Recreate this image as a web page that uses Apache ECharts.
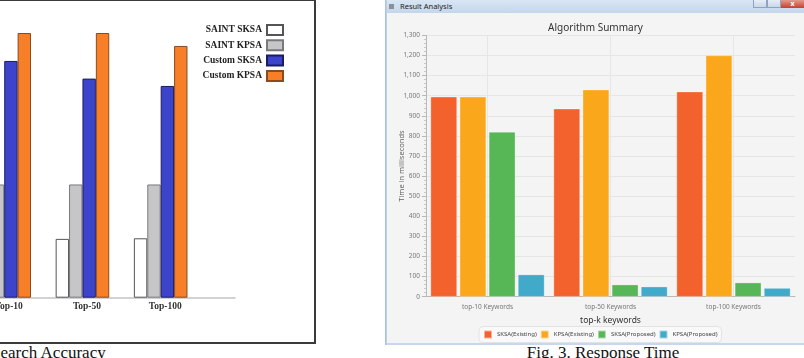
<!DOCTYPE html>
<html>
<head>
<meta charset="utf-8">
<script src="https://cdn.jsdelivr.net/npm/echarts@6/dist/echarts.min.js"></script>
<style>
html,body{margin:0;padding:0;background:#fff;width:804px;height:358px;overflow:hidden;position:relative;}
#leftBox{position:absolute;left:-130px;top:-1px;width:442px;height:341px;border:2px solid #3a3a3a;}
#leftChart{position:absolute;left:-120px;top:0;width:435px;height:343px;}
.caption{position:absolute;font-family:"Liberation Serif",serif;font-size:17px;line-height:17px;color:#111;white-space:nowrap;}
#win{position:absolute;left:385px;top:0;width:419px;height:345px;background:linear-gradient(90deg,#9db9dd,#c6d8ee 2px);}
#titlebar{position:absolute;left:387px;top:0;width:417px;height:13px;background:linear-gradient(#d9e6f4,#c4d6eb);}
#titleText{position:absolute;left:400px;top:2px;font-family:"Noto Sans",sans-serif;font-size:7.5px;line-height:9px;color:#222;}
#titleIcon{position:absolute;left:389px;top:4px;width:5px;height:5px;background:#8a8f98;}
.btn{position:absolute;top:0;height:8px;border:1px solid #8ea3bf;border-top:none;box-sizing:border-box;background:linear-gradient(#e6eef7,#c9d7e8);}
#btnClose{position:absolute;left:781px;top:0;width:23px;height:8px;background:linear-gradient(#e49a8d,#c6402d);color:#fff;font:bold 7px "Noto Sans",sans-serif;line-height:8px;text-align:center;}
#content{position:absolute;left:387px;top:13px;width:417px;height:330px;background:#f4f4f4;}
#rightChart{position:absolute;left:387px;top:13px;width:417px;height:330px;}
</style>
</head>
<body>
<div id="leftBox"></div>
<div id="leftChart"></div>
<div class="caption" style="left:-9px;top:344px;">Search Accuracy</div>

<div id="win"></div>
<div id="titlebar"></div>
<div id="titleIcon"></div>
<div id="titleText">Result Analysis</div>
<div class="btn" style="left:753px;width:14px;"></div>
<div class="btn" style="left:767px;width:14px;"></div>
<div id="btnClose">x</div>
<div id="content"></div>
<div id="rightChart"></div>
<div class="caption" style="left:503px;width:200px;text-align:center;top:344px;">Fig. 3. Response Time</div>

<script>
// search accuracy (left, no axis values shown)
const accCategories = ['Top-10', 'Top-50', 'Top-100'];
const saintSksa = [20, 20, 20.2];
const saintKpsa = [38.5, 38.5, 38.5];
const customSksa = [80.5, 74.5, 72];
const customKpsa = [90, 90, 85.6];

// response time (right)
const rtCategories = ['top-10 Keywords', 'top-50 Keywords', 'top-100 Keywords'];
const sksaExisting = [995, 935, 1020];
const kpsaExisting = [995, 1030, 1200];
const sksaProposed = [820, 60, 70];
const kpsaProposed = [110, 50, 43];

function drawLeft() {
    let chart = echarts.init(document.getElementById('leftChart'));
    const serif = '"Liberation Serif", serif';
    // bars on a value axis so the axis line can run past the last group
    const toPoints = arr => arr.map((v, i) => [i, v]);
    const barSeries = (name, arr, fill, border) => ({
        name: name,
        type: 'bar',
        data: toPoints(arr),
        barWidth: 13.4,
        barGap: '0%',
        itemStyle: { color: fill, borderColor: border, borderWidth: 1 }
    });
    chart.setOption({
        animation: false,
        grid: { left: 46, right: 80, top: 3.6, bottom: 45.3, outerBoundsMode: 'none' },
        legend: {
            orient: 'vertical',
            right: 26,
            top: 19,
            align: 'right',
            itemWidth: 16,
            itemHeight: 10,
            itemGap: 3.3,
            icon: 'rect',
            textStyle: { fontFamily: serif, fontWeight: 'bold', fontSize: 9.5, color: '#222' }
        },
        xAxis: {
            type: 'value',
            min: -1,
            max: 2.95,
            interval: 1,
            splitLine: { show: false },
            axisTick: { show: false },
            axisLine: { show: true, lineStyle: { color: '#c4c4c4', width: 1.5 } },
            axisLabel: {
                margin: 4,
                padding: [0, 0, 0, 9],
                fontFamily: serif,
                fontWeight: 'bold',
                fontSize: 9.5,
                color: '#333',
                formatter: v => accCategories[v] || ''
            }
        },
        yAxis: { type: 'value', min: 0, max: 100, show: false },
        series: [
            barSeries('SAINT SKSA', saintSksa, '#ffffff', '#555555'),
            barSeries('SAINT KPSA', saintKpsa, '#c6c6c8', '#7a7a7a'),
            barSeries('Custom SKSA', customSksa, '#3d44cc', '#1c1c60'),
            barSeries('Custom KPSA', customKpsa, '#f67f27', '#8a4a22')
        ]
    });
}

function drawRight() {
    let chart = echarts.init(document.getElementById('rightChart'));
    const sans = '"Noto Sans", sans-serif';
    const barSeries = (name, arr, color) => ({
        name: name,
        type: 'bar',
        data: arr,
        barWidth: 26.5,
        barGap: '10%',
        itemStyle: { color: color, borderColor: 'rgba(255,255,255,0.5)', borderWidth: 0.6 }
    });
    chart.setOption({
        animation: false,
        title: {
            text: 'Algorithm Summary',
            left: 'center',
            top: 5,
            textStyle: { fontFamily: sans, fontSize: 10, fontWeight: 'normal', color: '#333' }
        },
        grid: { left: 39, right: 9, top: 22.4, bottom: 46.3, outerBoundsMode: 'none' },
        legend: {
            left: 92,
            top: 313.5,
            itemWidth: 8,
            itemHeight: 8,
            itemGap: 3,
            icon: 'rect',
            padding: [3, 4],
            backgroundColor: '#f9f9f9',
            borderColor: '#e3e3e3',
            borderWidth: 1,
            borderRadius: 4,
            textStyle: { fontFamily: sans, fontSize: 6, color: '#444' }
        },
        xAxis: {
            type: 'category',
            data: rtCategories,
            name: 'top-k keywords',
            nameLocation: 'middle',
            nameGap: 15,
            nameTextStyle: { fontFamily: sans, fontSize: 8.5, color: '#333' },
            axisLine: { lineStyle: { color: '#b8b8b8' } },
            axisTick: { show: false },
            axisLabel: { fontFamily: sans, fontSize: 6.5, color: '#777', margin: 7 },
            splitLine: { show: true, alignWithLabel: true, lineStyle: { color: '#e6e6e6' } }
        },
        yAxis: {
            type: 'value',
            min: 0,
            max: 1300,
            interval: 100,
            name: 'Time in milliseconds',
            nameLocation: 'middle',
            nameGap: 20,
            nameMoveOverlap: false,
            nameTextStyle: { fontFamily: sans, fontSize: 7.5, color: '#666' },
            axisLine: { show: true, lineStyle: { color: '#b8b8b8' } },
            axisTick: { show: true, length: 4, lineStyle: { color: '#b8b8b8' } },
            minorTick: { show: true, splitNumber: 5, length: 2, lineStyle: { color: '#c8c8c8' } },
            axisLabel: {
                fontFamily: sans,
                fontSize: 6.5,
                color: '#777',
                margin: 6,
                formatter: v => v.toLocaleString('en-US')
            },
            splitLine: { lineStyle: { color: '#e6e6e6' } }
        },
        series: [
            barSeries('SKSA(Existing)', sksaExisting, '#f3622d'),
            barSeries('KPSA(Existing)', kpsaExisting, '#fba71b'),
            barSeries('SKSA(Proposed)', sksaProposed, '#57b757'),
            barSeries('KPSA(Proposed)', kpsaProposed, '#41a9c9')
        ]
    });
}

drawLeft();
drawRight();
</script>
</body>
</html>
